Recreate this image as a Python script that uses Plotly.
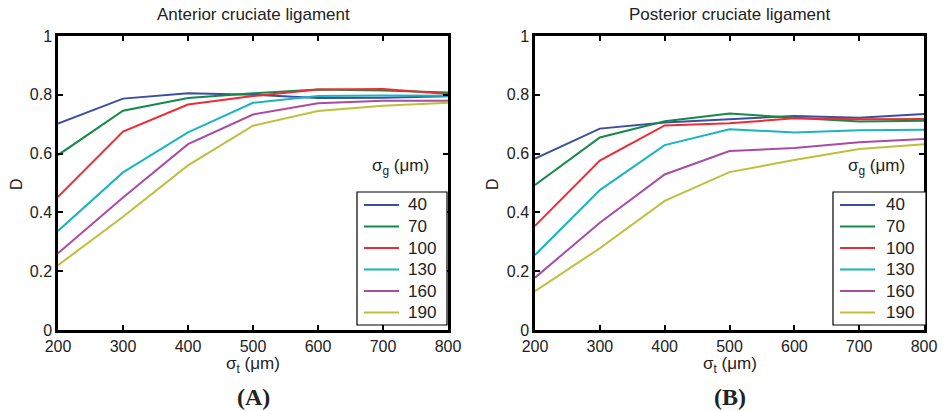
import plotly.graph_objects as go

sigma_t = [200, 300, 400, 500, 600, 700, 800]
sigma_g = ["40", "70", "100", "130", "160", "190"]
colors = ["#3A4FA3", "#14894A", "#EE2C35", "#1AB5BE", "#A94CA3", "#BCC03C"]

acl_40 = [0.702, 0.787, 0.805, 0.800, 0.789, 0.790, 0.795]
acl_70 = [0.595, 0.746, 0.789, 0.805, 0.818, 0.815, 0.808]
acl_100 = [0.453, 0.675, 0.767, 0.796, 0.818, 0.820, 0.803]
acl_130 = [0.337, 0.536, 0.672, 0.773, 0.796, 0.798, 0.797]
acl_160 = [0.261, 0.451, 0.632, 0.733, 0.771, 0.780, 0.780]
acl_190 = [0.220, 0.385, 0.560, 0.695, 0.745, 0.763, 0.773]

pcl_40 = [0.583, 0.685, 0.706, 0.717, 0.728, 0.722, 0.735]
pcl_70 = [0.493, 0.655, 0.710, 0.736, 0.722, 0.709, 0.712]
pcl_100 = [0.354, 0.576, 0.696, 0.703, 0.720, 0.717, 0.718]
pcl_130 = [0.255, 0.476, 0.629, 0.683, 0.672, 0.679, 0.681]
pcl_160 = [0.178, 0.365, 0.529, 0.609, 0.619, 0.639, 0.650]
pcl_190 = [0.132, 0.278, 0.439, 0.537, 0.578, 0.616, 0.632]

acl = [acl_40, acl_70, acl_100, acl_130, acl_160, acl_190]
pcl = [pcl_40, pcl_70, pcl_100, pcl_130, pcl_160, pcl_190]

x_ticks = [200, 300, 400, 500, 600, 700, 800]
y_ticks = [0, 0.2, 0.4, 0.6, 0.8, 1]
y_labels = ["0", "0.2", "0.4", "0.6", "0.8", "1"]

W, H = 942, 411
FONT = "Liberation Sans, Arial, sans-serif"
TXT = "#222"

def px_x(p):
    return p / W

def px_y(p):
    return 1 - p / H

fig = go.Figure()
for name, col, ys in zip(sigma_g, colors, acl):
    fig.add_trace(go.Scatter(x=sigma_t, y=ys, mode="lines", name=name,
                             line=dict(color=col, width=2),
                             xaxis="x", yaxis="y", showlegend=False))
for name, col, ys in zip(sigma_g, colors, pcl):
    fig.add_trace(go.Scatter(x=sigma_t, y=ys, mode="lines", name=name,
                             line=dict(color=col, width=2),
                             xaxis="x2", yaxis="y2", showlegend=False))

ydom = [px_y(330), px_y(36)]
axis_common = dict(showline=True, linecolor="black", linewidth=2.5, mirror="ticks",
                   ticks="inside", ticklen=5, tickwidth=1.5, tickcolor="black",
                   showgrid=False, zeroline=False, automargin=False,
                   tickfont=dict(family=FONT, size=16, color=TXT))

fig.update_layout(
    width=W, height=H,
    margin=dict(l=0, r=0, t=0, b=0, autoexpand=False),
    paper_bgcolor="white", plot_bgcolor="white",
    showlegend=False,
    xaxis=dict(domain=[px_x(58), px_x(448)], range=[200, 800],
               tickvals=x_ticks, anchor="y", **axis_common),
    yaxis=dict(domain=ydom, range=[0, 1], tickvals=y_ticks, ticktext=y_labels,
               anchor="x", **axis_common),
    xaxis2=dict(domain=[px_x(535), px_x(924)], range=[200, 800],
                tickvals=x_ticks, anchor="y2", **axis_common),
    yaxis2=dict(domain=ydom, range=[0, 1], tickvals=y_ticks, ticktext=y_labels,
                anchor="x2", **axis_common),
)

ann = []
shapes = []
panels = [
    dict(cx=253, title="Anterior cruciate ligament", tag="(A)", dx=16,
         box=(357, 447), line=(364, 399), text_x=406, leg_title_x=400),
    dict(cx=730, title="Posterior cruciate ligament", tag="(B)", dx=492,
         box=(833, 926), line=(840, 875), text_x=884, leg_title_x=876),
]
row_y = [205, 226.5, 248, 269.5, 291, 312.5]
for p in panels:
    ann.append(dict(x=px_x(p["cx"]), y=px_y(15), xref="paper", yref="paper",
                    text=p["title"], showarrow=False,
                    font=dict(family=FONT, size=17, color=TXT),
                    xanchor="center", yanchor="middle"))
    ann.append(dict(x=px_x(p["cx"]), y=px_y(365), xref="paper", yref="paper",
                    text="σ<sub>t</sub> (μm)", showarrow=False,
                    font=dict(family=FONT, size=17, color=TXT),
                    xanchor="center", yanchor="middle"))
    ann.append(dict(x=px_x(p["cx"]), y=px_y(397), xref="paper", yref="paper",
                    text="<b>" + p["tag"] + "</b>", showarrow=False,
                    font=dict(family="Liberation Serif, serif", size=24, color=TXT),
                    xanchor="center", yanchor="middle"))
    ann.append(dict(x=px_x(p["dx"]), y=px_y(184), xref="paper", yref="paper", text="D",
                    showarrow=False, textangle=-90,
                    font=dict(family=FONT, size=16, color=TXT),
                    xanchor="center", yanchor="middle"))
    ann.append(dict(x=px_x(p["leg_title_x"]), y=px_y(167), xref="paper", yref="paper",
                    text="σ<sub>g</sub> (μm)", showarrow=False,
                    font=dict(family=FONT, size=17, color=TXT),
                    xanchor="center", yanchor="middle"))
    shapes.append(dict(type="rect", xref="paper", yref="paper",
                       x0=px_x(p["box"][0]), x1=px_x(p["box"][1]),
                       y0=px_y(325), y1=px_y(192),
                       line=dict(color="black", width=1.2), fillcolor="white",
                       layer="above"))
    for name, col, ry in zip(sigma_g, colors, row_y):
        shapes.append(dict(type="line", xref="paper", yref="paper",
                           x0=px_x(p["line"][0]), x1=px_x(p["line"][1]),
                           y0=px_y(ry), y1=px_y(ry),
                           line=dict(color=col, width=2.2), layer="above"))
        ann.append(dict(x=px_x(p["text_x"]), y=px_y(ry), xref="paper", yref="paper",
                        text=name, showarrow=False,
                        font=dict(family=FONT, size=17, color=TXT),
                        xanchor="left", yanchor="middle"))
fig.update_layout(annotations=ann, shapes=shapes)

fig.write_html("out.html")
